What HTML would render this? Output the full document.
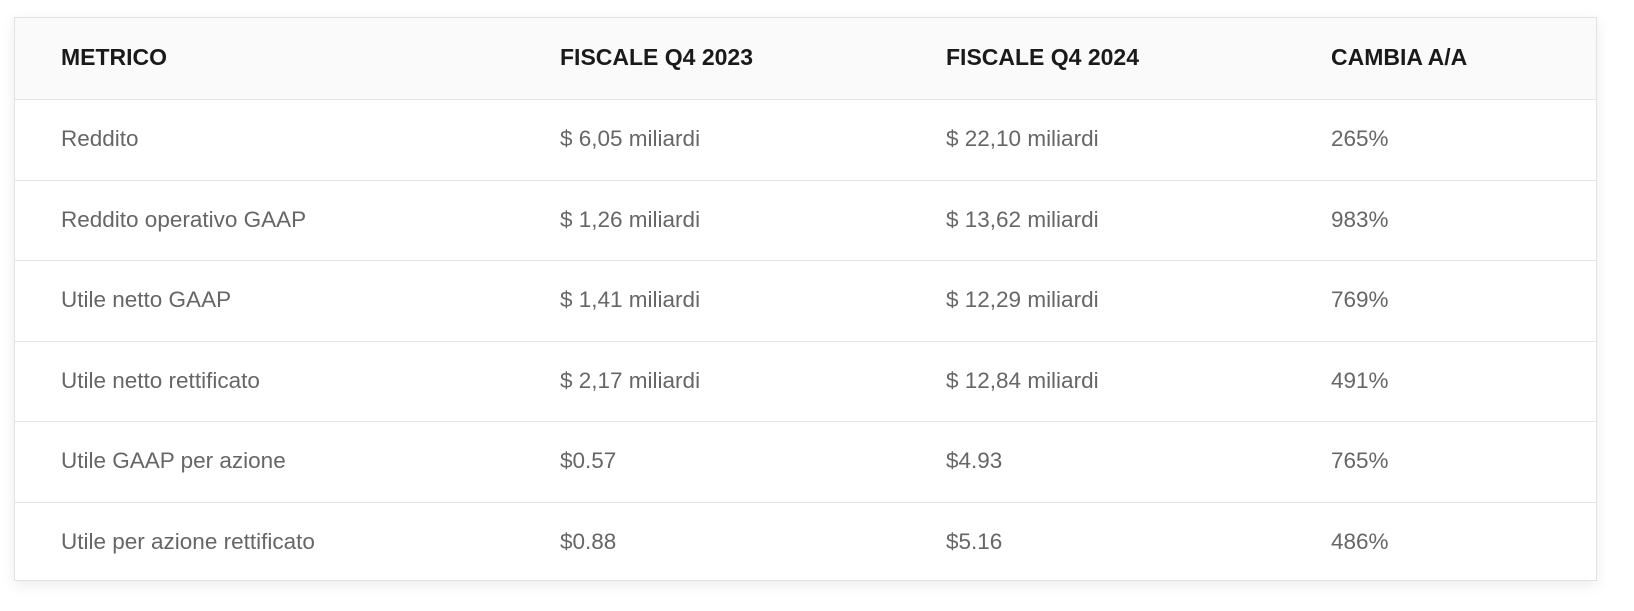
<!DOCTYPE html>
<html><head><meta charset="utf-8"><style>
html,body{margin:0;padding:0;background:#fff;width:1634px;height:611px;overflow:hidden}
.t{position:absolute;left:14px;top:17px;width:1583px;height:564px;border:1px solid #e2e2e2;box-sizing:border-box;box-shadow:0 4px 14px rgba(0,0,0,0.08);background:#fff;font-family:"Liberation Sans",sans-serif}
.r{position:absolute;left:0;width:100%;height:80.5px;border-top:1px solid #e4e4e4;box-sizing:border-box}
.h{top:0;height:81px;border-top:none;background:#fafafa}
.c{position:absolute;top:0;line-height:78px;font-size:22.5px;color:#666;white-space:nowrap}
.h .c{font-weight:bold;color:#1a1a1a;font-size:23px;line-height:79px}
.c1{left:46px}.c2{left:545px}.c3{left:931px}.c4{left:1316px}
</style></head><body>
<div class="t">
<div class="r h"><div class="c c1">METRICO</div><div class="c c2">FISCALE Q4 2023</div><div class="c c3">FISCALE Q4 2024</div><div class="c c4">CAMBIA A/A</div></div>
<div class="r" style="top:81px"><div class="c c1">Reddito</div><div class="c c2">$ 6,05 miliardi</div><div class="c c3">$ 22,10 miliardi</div><div class="c c4">265%</div></div>
<div class="r" style="top:161.5px"><div class="c c1">Reddito operativo GAAP</div><div class="c c2">$ 1,26 miliardi</div><div class="c c3">$ 13,62 miliardi</div><div class="c c4">983%</div></div>
<div class="r" style="top:242px"><div class="c c1">Utile netto GAAP</div><div class="c c2">$ 1,41 miliardi</div><div class="c c3">$ 12,29 miliardi</div><div class="c c4">769%</div></div>
<div class="r" style="top:322.5px"><div class="c c1">Utile netto rettificato</div><div class="c c2">$ 2,17 miliardi</div><div class="c c3">$ 12,84 miliardi</div><div class="c c4">491%</div></div>
<div class="r" style="top:403px"><div class="c c1">Utile GAAP per azione</div><div class="c c2">$0.57</div><div class="c c3">$4.93</div><div class="c c4">765%</div></div>
<div class="r" style="top:483.5px"><div class="c c1">Utile per azione rettificato</div><div class="c c2">$0.88</div><div class="c c3">$5.16</div><div class="c c4">486%</div></div>
</div>
</body></html>
